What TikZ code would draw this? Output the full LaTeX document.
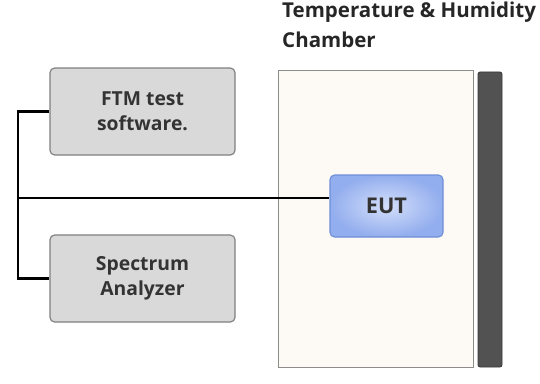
\documentclass[tikz,border=0pt]{standalone}
\usepackage{fontspec}
\setmainfont{Open Sans}
\usetikzlibrary{calc}

\definecolor{boxgrey}{HTML}{D9D9D9}
\definecolor{boxedge}{HTML}{7F7F7F}
\definecolor{eutblue}{HTML}{93AEEE}
\definecolor{eutpale}{HTML}{D3DEFA}
\definecolor{eutedge}{HTML}{6F8FD8}
\definecolor{chamberfill}{HTML}{FDF9F4}
\definecolor{baredge}{HTML}{3A3A3A}

\begin{document}
\begin{tikzpicture}[x=0.03cm,y=-0.03cm,
        instr/.style={draw=boxedge,fill=boxgrey,line width=1pt,rounded corners=4pt,
            minimum width=5.55cm,minimum height=2.61cm,align=center,text=black!80,
            font=\bfseries\fontsize{16.5}{21}\selectfont},
        cable/.style={line width=2.4pt,black}]
        \useasboundingbox (0,0) rectangle (540,383);

        % chamber and its wall
        \node[draw=black!45,fill=chamberfill,line width=0.8pt,minimum width=5.85cm,minimum height=8.91cm] (chamber) at (375.5,218.5) {};
        \node[draw=baredge,fill=black!68,line width=0.8pt,rounded corners=2pt,minimum width=0.72cm,minimum height=8.85cm] (wall) at (490,219.5) {};
        \node[anchor=north west,align=left,font=\bfseries\fontsize{17.5}{25}\selectfont,text=black!85,inner sep=0pt] (title) at (282,2) {Temperature \& Humidity\\Chamber};

        \node[draw=eutedge,inner color=eutpale,outer color=eutblue,line width=1pt,rounded corners=4pt,minimum width=3.39cm,minimum height=1.86cm,
            font=\bfseries\fontsize{18.5}{21}\selectfont,text=black!80] (eut) at (386.5,206) {EUT};

        \node[instr] (ftm) at (142.5,111.5) {FTM test\\software.};
        \node[instr] (spec) at (142.5,278.5) {Spectrum\\Analyzer};

        \coordinate (busT) at (18,111.5);
        \coordinate (busM) at (18,198);
        \coordinate (busB) at (18,278.5);
        \draw[cable] (ftm.west)--(busT)--(busB)--(spec.west);
        \draw[cable] (busM)--(busM -| eut.west);
\end{tikzpicture}
\end{document}
